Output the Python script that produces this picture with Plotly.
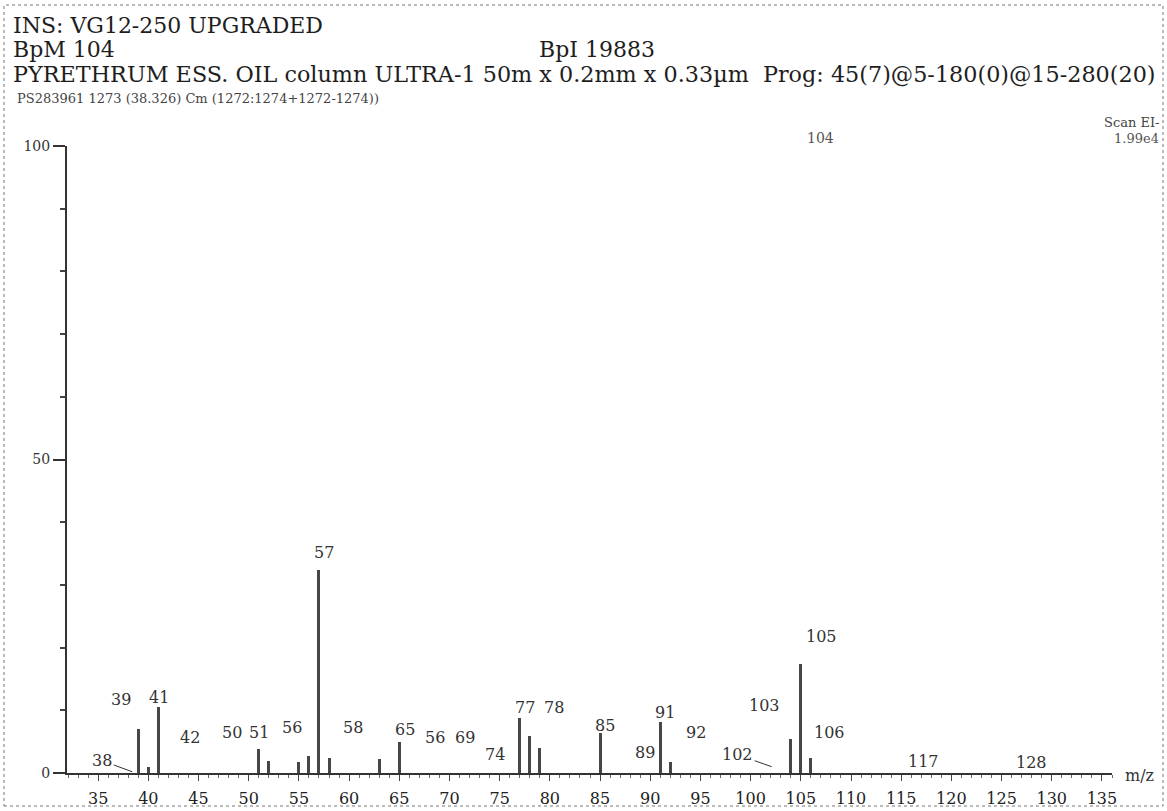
import plotly.graph_objects as go

# peak list (m/z, relative intensity %)
mz = [39, 40, 41, 51, 52, 55, 56, 57, 58, 63, 65, 77, 78, 79, 85, 91, 92, 104, 105, 106]
intensity = [7.0, 0.9, 10.5, 3.8, 1.9, 1.8, 2.7, 32.4, 2.4, 2.2, 4.9, 8.8, 5.9, 4.0, 6.4, 8.1, 1.8, 5.4, 17.4, 2.4]

# printed peak labels
label_text = ['39', '41', '42', '50', '51', '56', '57', '58', '65', '56', '69', '74',
              '77', '78', '85', '89', '91', '92', '103', '105', '106', '117', '128']
label_mz = [37.3, 41.1, 44.2, 48.3, 51.0, 54.3, 57.5, 60.4, 65.6, 68.6, 71.5, 74.5,
            77.5, 80.4, 85.5, 89.5, 91.5, 94.6, 101.4, 107.1, 107.9, 117.2, 128.0]
label_int = [11.8, 12.0, 5.6, 6.4, 6.5, 7.3, 35.2, 7.2, 6.9, 5.6, 5.6, 2.9,
             10.5, 10.5, 7.5, 3.3, 9.6, 6.4, 10.8, 21.7, 6.5, 1.8, 1.6]

base_peak_label = '104'

x_ticks = list(range(35, 140, 5))
y_ticks = [0, 50, 100]

W, H = 1167, 811
L, R, T, B = 67, 55, 146, 38
SERIF = 'DejaVu Serif'
INK = '#1e1e1e'


def px(x, y):
    return (x - L) / (W - L - R), (H - B - y) / (H - T - B)


fig = go.Figure()
fig.add_trace(go.Bar(
    x=mz, y=intensity, width=0.3,
    marker=dict(color='#474747', line=dict(width=0)),
    hoverinfo='x+y',
))

annotations = []
for t, xm, yi in zip(label_text, label_mz, label_int):
    annotations.append(dict(x=xm, y=yi, xref='x', yref='y', text=t, showarrow=False,
                            font=dict(family=SERIF, size=16, color='#333')))

# labels with leader lines
annotations.append(dict(x=38.4, y=0.2, xref='x', yref='y', text='38', showarrow=True,
                        arrowhead=0, arrowwidth=1, arrowcolor='#333', ax=-30, ay=-11,
                        font=dict(family=SERIF, size=16, color='#333')))
annotations.append(dict(x=102.1, y=1.0, xref='x', yref='y', text='102', showarrow=True,
                        arrowhead=0, arrowwidth=1, arrowcolor='#333', ax=-34, ay=-12,
                        font=dict(family=SERIF, size=16, color='#333')))


def header(text, x, y, size, anchor='left', color=INK):
    xp, yp = px(x, y)
    annotations.append(dict(x=xp, y=yp, xref='paper', yref='paper', text=text,
                            showarrow=False, xanchor=anchor, yanchor='middle',
                            borderpad=0, font=dict(family=SERIF, size=size, color=color)))


header('INS: VG12-250 UPGRADED', 12, 26, 22)
header('BpM 104', 12, 49, 22)
header('BpI 19883', 538, 49, 22)
header('PYRETHRUM ESS. OIL column ULTRA-1 50m x 0.2mm x 0.33\u00b5m  Prog: 45(7)@5-180(0)@15-280(20)',
       12, 74, 22.3)
header('PS283961 1273 (38.326) Cm (1272:1274+1272-1274))', 16, 98, 13, color='#444')
header('Scan EI-', 1160, 122, 13, anchor='right', color='#444')
header('1.99e4', 1160, 139, 13, anchor='right', color='#555')
header(base_peak_label, 820, 138, 14, anchor='center', color='#555')
header('m/z', 1124, 775, 16, color='#333')

shapes = []
x0, y0 = px(4, 806)
x1, y1 = px(1163, 5)
shapes.append(dict(type='rect', xref='paper', yref='paper', x0=x0, y0=y0, x1=x1, y1=y1,
                   line=dict(color='#777', width=1, dash='dot')))

fig.update_layout(
    width=W, height=H, autosize=False,
    margin=dict(l=L, r=R, t=T, b=B, autoexpand=False),
    paper_bgcolor='white', plot_bgcolor='white',
    showlegend=False,
    bargap=0,
    annotations=annotations,
    shapes=shapes,
    xaxis=dict(
        range=[31.9, 136.0], showgrid=False, zeroline=False,
        showline=True, linecolor='#333', linewidth=2,
        tickvals=x_ticks, ticks='outside', ticklen=6, tickwidth=1, tickcolor='#444',
        ticklabelstandoff=4,
        minor=dict(dtick=1, ticks='outside', ticklen=3, tickcolor='#666'),
        tickfont=dict(family=SERIF, size=16, color='#222'),
    ),
    yaxis=dict(
        range=[0, 100], showgrid=False, zeroline=False,
        showline=True, linecolor='#333', linewidth=2,
        tickvals=y_ticks, ticks='outside', ticklen=12, tickwidth=1.5, tickcolor='#333',
        minor=dict(dtick=10, ticks='outside', ticklen=5, tickcolor='#444'),
        tickfont=dict(family=SERIF, size=14, color='#333'),
    ),
)

# page body has a default 8px margin; drop it so the figure fills the window
fig.write_html('out.html', config={'displayModeBar': False},
               post_script="document.body.style.margin='0';")
